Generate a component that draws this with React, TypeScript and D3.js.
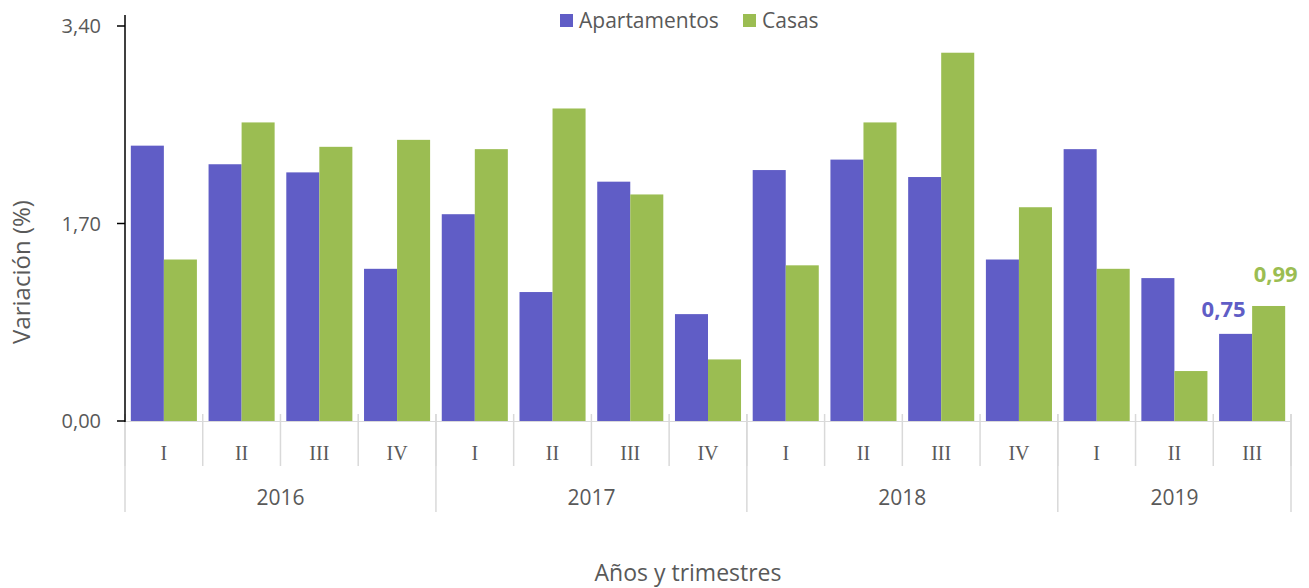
import React from 'react';
import * as d3 from 'd3';

const years = ['2016', '2017', '2018', '2019'];
const quarters = ['I', 'II', 'III', 'IV', 'I', 'II', 'III', 'IV', 'I', 'II', 'III', 'IV', 'I', 'II', 'III'];
const quarterYear = [0, 0, 0, 0, 1, 1, 1, 1, 2, 2, 2, 2, 3, 3, 3];
const apartamentos = [2.37, 2.21, 2.14, 1.31, 1.78, 1.11, 2.06, 0.92, 2.16, 2.25, 2.10, 1.39, 2.34, 1.23, 0.75];
const casas = [1.39, 2.57, 2.36, 2.42, 2.34, 2.69, 1.95, 0.53, 1.34, 2.57, 3.17, 1.84, 1.31, 0.43, 0.99];
const yTicks = [0, 1.7, 3.4];

const W = 1309;
const H = 588;
const left = 125;
const right = 1291;
const top = 26;
const bottom = 421;

const APT = '#605dc6';
const CAS = '#9bbd52';
const TXT = '#595959';
const SANS = '"Open Sans", "Noto Sans", sans-serif';

const fmt = (v: number) => v.toFixed(2).replace('.', ',');

export default function App() {
  const idx = quarters.map((_, i) => i);
  const x = d3.scaleBand<number>().domain(idx).range([left, right]).padding(0);
  const y = d3.scaleLinear().domain([0, 3.4]).range([bottom, top]);
  const bw = x.bandwidth();
  const barW = bw * 0.425;
  const off = bw * 0.075;

  // year groups: first and last index for each year
  const groups = years.map((yr, yi) => {
    const members = idx.filter(i => quarterYear[i] === yi);
    const x0 = x(members[0])!;
    const x1 = x(members[members.length - 1])! + bw;
    return { yr, x0, x1 };
  });

  const last = quarters.length - 1;

  return (
    <svg width={W} height={H} style={{ position: 'absolute', left: 0, top: 0, background: '#fff' }}>
      {/* legend */}
      <g fontFamily={SANS} fontSize={21} fill={TXT}>
        <rect x={560} y={14} width={13} height={13} fill={APT} />
        <text x={579} y={28}>Apartamentos</text>
        <rect x={743} y={14} width={13} height={13} fill={CAS} />
        <text x={762} y={28}>Casas</text>
      </g>

      {/* bars */}
      {idx.map(i => (
        <g key={i}>
          <rect x={x(i)! + off} y={y(apartamentos[i])} width={barW} height={bottom - y(apartamentos[i])} fill={APT} />
          <rect x={x(i)! + off + barW} y={y(casas[i])} width={barW} height={bottom - y(casas[i])} fill={CAS} />
        </g>
      ))}

      {/* baseline */}
      <line x1={left} x2={right} y1={bottom + 0.5} y2={bottom + 0.5} stroke="#d9d9d9" strokeWidth={1} />

      {/* category separators */}
      {idx.map(i => (
        <line key={'s' + i} x1={x(i)!} x2={x(i)!} y1={414} y2={466} stroke="#d9d9d9" strokeWidth={1.5} />
      ))}
      <line x1={right} x2={right} y1={414} y2={466} stroke="#d9d9d9" strokeWidth={1.5} />
      {groups.map(g => (
        <line key={'g' + g.yr} x1={g.x0} x2={g.x0} y1={414} y2={512} stroke="#d9d9d9" strokeWidth={1.5} />
      ))}
      <line x1={right} x2={right} y1={414} y2={512} stroke="#d9d9d9" strokeWidth={1.5} />

      {/* quarter labels */}
      {idx.map(i => (
        <text key={'q' + i} x={x(i)! + bw / 2} y={460} textAnchor="middle" fontFamily='"Liberation Serif", "DejaVu Serif", serif' fontSize={20} fill={TXT}>
          {quarters[i]}
        </text>
      ))}

      {/* year labels */}
      {groups.map(g => (
        <text key={'y' + g.yr} x={(g.x0 + g.x1) / 2} y={505} textAnchor="middle" fontFamily={SANS} fontSize={21} fill={TXT}>
          {g.yr}
        </text>
      ))}

      {/* y axis */}
      <line x1={left} x2={left} y1={15} y2={bottom + 1} stroke="#000" strokeWidth={1.5} />
      {yTicks.map(t => (
        <g key={t}>
          <line x1={117} x2={left} y1={y(t)} y2={y(t)} stroke="#000" strokeWidth={1.5} />
          <text x={101} y={y(t) + 7} textAnchor="end" fontFamily={SANS} fontSize={20} fill={TXT}>
            {fmt(t)}
          </text>
        </g>
      ))}

      {/* data labels for last quarter */}
      <text x={x(last)! + off + barW / 2 - 12} y={y(apartamentos[last]) - 17} textAnchor="middle" fontFamily={SANS} fontSize={22} fontWeight="bold" fill={APT}>
        {fmt(apartamentos[last])}
      </text>
      <text x={x(last)! + off + barW * 1.5 + 7} y={y(casas[last]) - 24} textAnchor="middle" fontFamily={SANS} fontSize={22} fontWeight="bold" fill={CAS}>
        {fmt(casas[last])}
      </text>

      {/* axis titles */}
      <text transform="translate(30,272) rotate(-90)" textAnchor="middle" fontFamily={SANS} fontSize={24} fill={TXT}>
        Variación (%)
      </text>
      <text x={688} y={581} textAnchor="middle" fontFamily={SANS} fontSize={23} fill={TXT}>
        Años y trimestres
      </text>
    </svg>
  );
}
